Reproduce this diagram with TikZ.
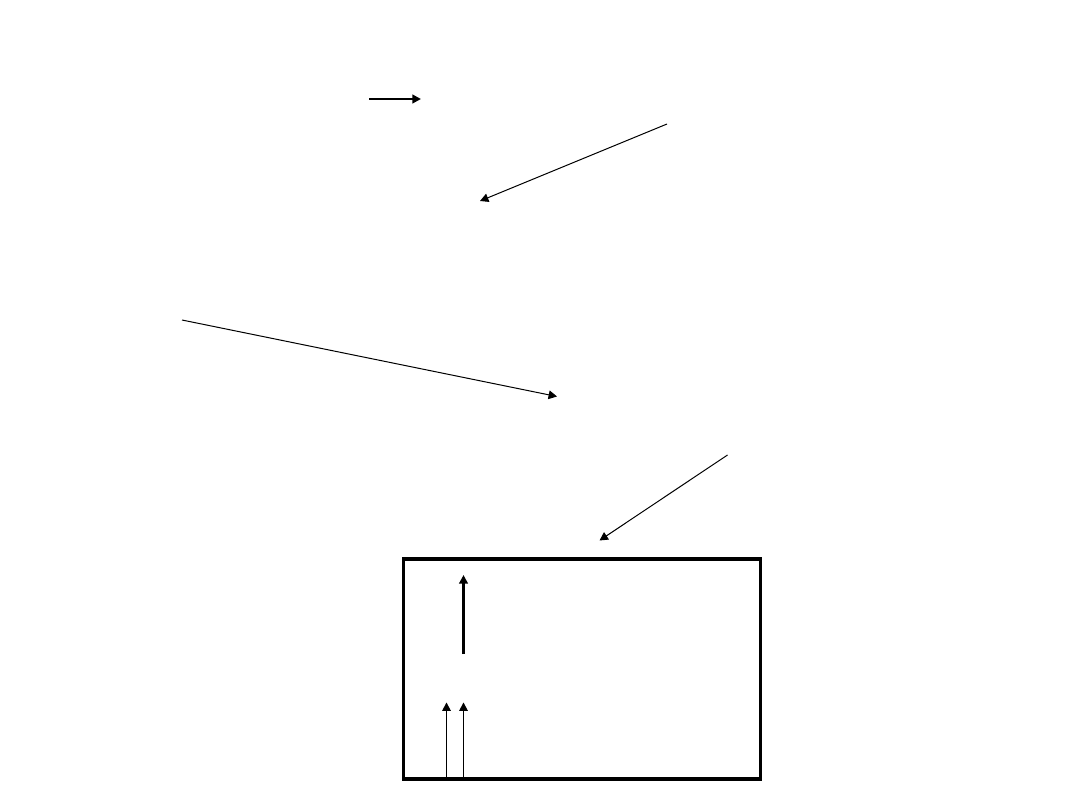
\documentclass[tikz,border=0pt]{standalone}
\usetikzlibrary{arrows.meta}
\begin{document}
\begin{tikzpicture}[x=0.75pt,y=-0.75pt,
  thinarrow/.style={line width=0.75pt,-{Triangle[length=6.3pt,width=6.5pt]}},
  thickarrow/.style={line width=1.7pt,-{Triangle[length=6.5pt,width=6.5pt]}},
  framebox/.style={draw,line width=2.4pt,minimum width=357*0.75pt,minimum height=220*0.75pt,inner sep=0pt}]
\useasboundingbox[fill=white] (0,0) rectangle (1080,810);
% top short arrow
\coordinate (a1s) at (369,99);
\coordinate (a1e) at (421,99);
\draw[thickarrow] (a1s) -- (a1e);
% second arrow
\coordinate (a2s) at (667,124);
\coordinate (a2e) at (480,201);
\draw[thinarrow] (a2s) -- (a2e);
% third arrow
\coordinate (a3s) at (182,320);
\coordinate (a3e) at (557,396.5);
\draw[thinarrow] (a3s) -- (a3e);
% fourth arrow
\coordinate (a4s) at (727.5,455);
\coordinate (a4e) at (599.5,540.5);
\draw[thinarrow] (a4s) -- (a4e);
% box
\node[framebox] (box) at (582,669) {};
% arrows inside box
\coordinate (b1s) at (463.5,654);
\coordinate (b1e) at (463.5,575);
\draw[thickarrow] (b1s) -- (b1e);
\coordinate (b2s) at (446.5,779);
\coordinate (b2e) at (446.5,702.5);
\draw[thinarrow] (b2s) -- (b2e);
\coordinate (b3s) at (463.5,779);
\coordinate (b3e) at (463.5,702.5);
\draw[thinarrow] (b3s) -- (b3e);
\end{tikzpicture}
\end{document}
